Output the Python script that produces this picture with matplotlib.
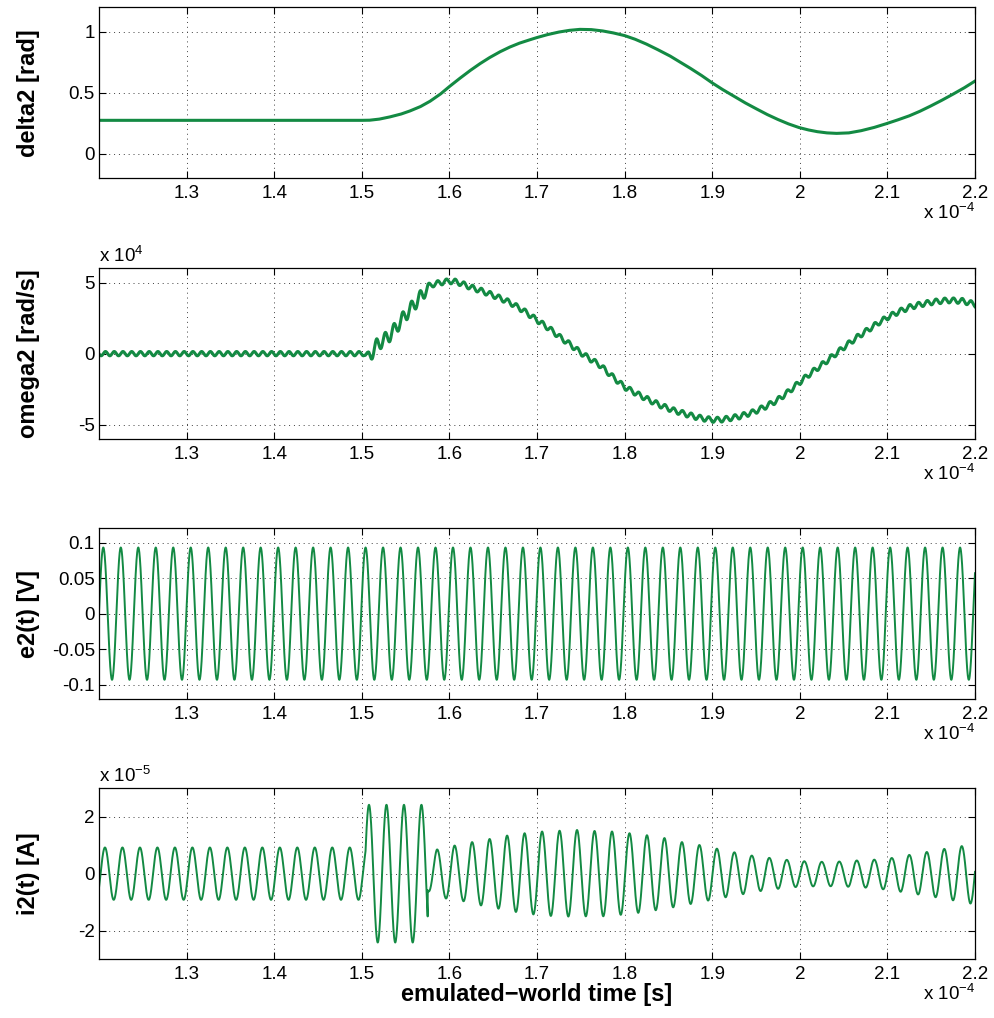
import matplotlib
matplotlib.use('Agg')
import matplotlib.pyplot as plt
import numpy as np

plt.rcParams['font.family'] = ['Liberation Sans', 'DejaVu Sans']
plt.rcParams['axes.unicode_minus'] = False
plt.rcParams['mathtext.fontset'] = 'custom'
plt.rcParams['mathtext.rm'] = 'Liberation Sans'
plt.rcParams['mathtext.default'] = 'regular'

green = '#138a43'

# time in units of 1e-4 s
t_lo, t_hi = 1.2, 2.2
t = np.linspace(t_lo, t_hi, 12000)

# AC carrier: period (x 1e-4 s) and peak reference times
period = 0.01996
e2_amp = 0.093
e2_peak_t = 1.2049
i2_peak_t = 1.2068

# delta2 [rad]
delta2_t = [1.2, 1.35, 1.5, 1.509, 1.52, 1.532, 1.545, 1.555, 1.567, 1.578, 1.59, 1.6,
            1.612, 1.624, 1.635, 1.646, 1.658, 1.669, 1.68, 1.692, 1.70, 1.712, 1.725,
            1.737, 1.749, 1.762, 1.775, 1.787, 1.80, 1.812, 1.825, 1.838, 1.852, 1.863,
            1.875, 1.888, 1.9, 1.912, 1.925, 1.938, 1.951, 1.963, 1.975, 1.987, 1.999,
            2.01, 2.02, 2.031, 2.042, 2.056, 2.07, 2.085, 2.099, 2.112, 2.125, 2.137,
            2.149, 2.162, 2.175, 2.188, 2.2]
delta2_v = [0.273, 0.273, 0.273, 0.274, 0.283, 0.301, 0.325, 0.35, 0.386, 0.43, 0.49, 0.55,
            0.618, 0.683, 0.738, 0.788, 0.836, 0.874, 0.906, 0.934, 0.952, 0.976, 0.997,
            1.011, 1.019, 1.017, 1.006, 0.99, 0.968, 0.938, 0.898, 0.852, 0.80, 0.752,
            0.70, 0.64, 0.58, 0.525, 0.47, 0.415, 0.365, 0.32, 0.28, 0.244, 0.214,
            0.194, 0.18, 0.17, 0.166, 0.17, 0.188, 0.215, 0.246, 0.277, 0.31, 0.347,
            0.389, 0.437, 0.488, 0.541, 0.595]

# omega2 slow trend and ripple amplitude [x 1e4 rad/s]
omega2_t = [1.2, 1.503, 1.507, 1.512, 1.517, 1.525, 1.532, 1.54, 1.547, 1.553, 1.559, 1.565,
            1.57, 1.575, 1.58, 1.59, 1.60, 1.608, 1.615, 1.623, 1.635, 1.646, 1.658, 1.669,
            1.684, 1.703, 1.715, 1.726, 1.738, 1.749, 1.76, 1.772, 1.786, 1.80, 1.815,
            1.829, 1.842, 1.856, 1.87, 1.882, 1.892, 1.9, 1.908, 1.917, 1.932, 1.947,
            1.96, 1.974, 1.987, 2.0, 2.013, 2.027, 2.04, 2.053, 2.066, 2.08, 2.09, 2.101,
            2.113, 2.126, 2.139, 2.152, 2.162, 2.171, 2.186, 2.2]
omega2_v = [0.0, 0.0, -0.3, 0.1, 0.6, 0.95, 1.3, 1.9, 2.5, 2.95, 3.4, 3.85,
            4.2, 4.6, 4.85, 5.0, 5.1, 5.05, 4.9, 4.7, 4.45, 4.2, 3.9, 3.6,
            3.05, 2.23, 1.72, 1.17, 0.64, 0.11, -0.35, -0.82, -1.6, -2.35, -2.85,
            -3.29, -3.66, -3.99, -4.25, -4.46, -4.58, -4.65, -4.65, -4.58, -4.4, -4.11,
            -3.75, -3.29, -2.68, -2.0, -1.35, -0.7, -0.06, 0.58, 1.18, 1.76, 2.18, 2.58,
            2.95, 3.28, 3.48, 3.63, 3.71, 3.75, 3.7, 3.47]
ripple_t = [1.2, 1.503, 1.508, 1.57, 1.58, 2.2]
ripple_amp = [0.15, 0.15, 0.45, 0.45, 0.18, 0.18]

# i2 envelope [x 1e-5 A]
i2_env_t = [1.2, 1.5042, 1.5752, 1.5855, 1.595, 1.6053, 1.6148, 1.6247, 1.6346, 1.6444,
            1.6543, 1.6646, 1.6741, 1.6844, 1.6939, 1.7042, 1.714, 1.7243, 1.7339, 1.7442,
            1.754, 1.7636, 1.7738, 1.7833, 1.7936, 1.8035, 1.8138, 1.8241, 1.8339, 1.8442,
            1.8545, 1.8652, 1.8747, 1.8849, 1.8948, 1.9051, 1.9154, 1.9252, 1.9355, 1.9458,
            1.9557, 1.966, 1.9763, 1.9862, 1.9963, 2.0067, 2.0166, 2.0268, 2.0371, 2.047,
            2.0573, 2.0676, 2.0775, 2.0866, 2.0965, 2.1056, 2.1155, 2.1258, 2.1361, 2.1448,
            2.1551, 2.165, 2.1752, 2.1855, 2.1943, 2.2]
i2_env = [0.92, 0.92, 0.6, 0.85, 0.86, 0.99, 0.95, 1.11, 1.10, 1.22,
          1.21, 1.34, 1.33, 1.42, 1.42, 1.48, 1.48, 1.51, 1.50, 1.54,
          1.50, 1.50, 1.50, 1.49, 1.45, 1.43, 1.38, 1.36, 1.29, 1.26,
          1.19, 1.11, 1.07, 1.01, 0.95, 0.88, 0.83, 0.75, 0.72, 0.63,
          0.61, 0.55, 0.53, 0.48, 0.47, 0.43, 0.45, 0.41, 0.45, 0.42,
          0.47, 0.46, 0.50, 0.49, 0.56, 0.55, 0.64, 0.66, 0.74, 0.76,
          0.83, 0.87, 0.94, 0.97, 1.05, 1.05]
# fault burst between 1.5042 and 1.5752
burst_t = [1.5042, 1.5752]
burst_amp = 2.42
burst_peak_t = 1.5082

e2 = e2_amp * np.cos(2 * np.pi * (t - e2_peak_t) / period)

omega2 = np.interp(t, omega2_t, omega2_v) + \
    np.interp(t, ripple_t, ripple_amp) * np.sin(4 * np.pi * (t - e2_peak_t) / period)

i2 = np.interp(t, i2_env_t, i2_env) * np.cos(2 * np.pi * (t - i2_peak_t) / period)
burst = (t >= burst_t[0]) & (t < burst_t[1])
i2[burst] = burst_amp * np.cos(2 * np.pi * (t[burst] - burst_peak_t) / period)

fig = plt.figure(figsize=(9.94, 10.18), dpi=100)
W, H = 994.0, 1018.0
left, right = 99, 975
tops = [7.3, 268.3, 528.3, 788.3]
h = 170.7

panels = [
    (delta2_t, delta2_v, 2.2, 'delta2 [rad]', (-0.2, 1.2), [0, 0.5, 1], ['0', '0.5', '1'], None),
    (t, omega2, 2.2, 'omega2 [rad/s]', (-6, 6), [-5, 0, 5], ['-5', '0', '5'], r'x 10$^{4}$'),
    (t, e2, 1.4, 'e2(t) [V]', (-0.12, 0.12), [-0.1, -0.05, 0, 0.05, 0.1],
     ['-0.1', '-0.05', '0', '0.05', '0.1'], None),
    (t, i2, 1.4, 'i2(t) [A]', (-3, 3), [-2, 0, 2], ['-2', '0', '2'], r'x 10$^{-5}$'),
]

xticks = [1.3, 1.4, 1.5, 1.6, 1.7, 1.8, 1.9, 2.0, 2.1, 2.2]
xticklabels = ['1.3', '1.4', '1.5', '1.6', '1.7', '1.8', '1.9', '2', '2.1', '2.2']

axes = []
for i, (x, y, lw, ylab, ylim, yt, ytl, yexp) in enumerate(panels):
    ax = fig.add_axes([left / W, 1 - (tops[i] + h) / H, (right - left) / W, h / H])
    ax.plot(x, y, color=green, linewidth=lw, solid_joinstyle='round')
    ax.set_xlim(t_lo, t_hi)
    ax.set_ylim(*ylim)
    ax.set_xticks(xticks)
    ax.set_xticklabels(xticklabels)
    ax.set_yticks(yt)
    ax.set_yticklabels(ytl)
    ax.grid(True, linestyle=(0, (1, 4)), color='0.25', linewidth=0.7)
    ax.tick_params(direction='in', top=True, right=True, length=5, width=0.8,
                   labelsize=13.5, colors='k')
    ax.tick_params(axis='x', pad=5)
    ax.tick_params(axis='y', pad=3)
    for s in ax.spines.values():
        s.set_linewidth(0.9)
    ax.set_ylabel(ylab, fontsize=17, fontweight='bold', va='center')
    ax.yaxis.set_label_coords(-0.081, 0.5)
    ax.text(1.0, -0.205, r'x 10$^{-4}$', transform=ax.transAxes, ha='right',
            va='center', fontsize=13.5)
    if yexp:
        ax.text(0.0, 1.075, yexp, transform=ax.transAxes, ha='left',
                va='center', fontsize=13.5)
    axes.append(ax)

axes[-1].set_xlabel('emulated\u2212world time [s]', fontsize=17, fontweight='bold', labelpad=0)

fig.savefig('out.png', dpi=100)
